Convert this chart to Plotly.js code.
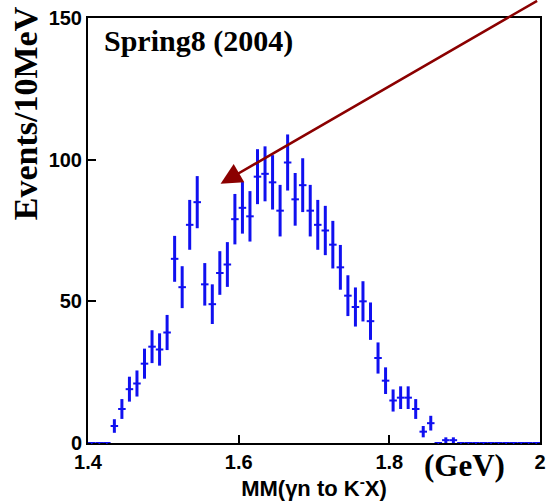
<!DOCTYPE html>
<html>
<head>
<meta charset="utf-8">
<script src="https://cdn.plot.ly/plotly-3.0.1.min.js"></script>
<style>
  html, body { margin: 0; padding: 0; background: #ffffff; }
  #chart { width: 548px; height: 502px; }
</style>
</head>
<body>
<div id="chart"></div>
<script>
// Missing-mass bin centres (GeV), 10 MeV bins
const binCenters = [
  1.405, 1.415, 1.425, 1.435, 1.445, 1.455, 1.465, 1.475, 1.485, 1.495,
  1.505, 1.515, 1.525, 1.535, 1.545, 1.555, 1.565, 1.575, 1.585, 1.595,
  1.605, 1.615, 1.625, 1.635, 1.645, 1.655, 1.665, 1.675, 1.685, 1.695,
  1.705, 1.715, 1.725, 1.735, 1.745, 1.755, 1.765, 1.775, 1.785, 1.795,
  1.805, 1.815, 1.825, 1.835, 1.845, 1.855, 1.865, 1.875, 1.885, 1.895,
  1.905, 1.915, 1.925, 1.935, 1.945, 1.955, 1.965, 1.975, 1.985, 1.995
];

// Events per bin
const events = [
  0, 0, 0, 6, 12, 19, 21, 28, 34, 33,
  39, 65, 55, 77, 85, 56, 49, 60, 63, 79,
  83, 80, 94, 95, 92, 82, 99, 86, 91, 82,
  77, 75, 70, 62, 52, 48, 50, 43, 30, 22,
  15, 16, 16, 12, 4, 7, 0, 1, 1, 0,
  0, 0, 0, 0, 0, 0, 0, 0, 0, 0
];

// Statistical uncertainty per bin
const errors = [
  0, 0, 0, 2.4, 3.5, 4.4, 4.6, 5.3, 5.8, 5.7,
  6.2, 8.1, 7.4, 8.8, 9.2, 7.5, 7.0, 7.7, 7.9, 8.9,
  9.1, 8.9, 9.7, 9.7, 9.6, 9.1, 9.9, 9.3, 9.5, 9.1,
  8.8, 8.7, 8.4, 7.9, 7.2, 6.9, 7.1, 6.6, 5.5, 4.7,
  3.9, 4.0, 4.0, 3.5, 2.0, 2.6, 0, 1.0, 1.0, 0,
  0, 0, 0, 0, 0, 0, 0, 0, 0, 0
];

// Half bin width (GeV)
const halfBin = 0.005;

const xTickVals = [1.4, 1.6, 1.8, 2.0];
const xTickText = ['1.4', '1.6', '1.8', '2'];
const yTickVals = [0, 50, 100, 150];
const yTickText = ['0', '50', '100', '150'];

const blue = '#1010f0';

const trace = {
  type: 'scatter',
  mode: 'markers',
  x: binCenters,
  y: events,
  cliponaxis: false,
  marker: { color: blue, size: 2 },
  error_y: { type: 'data', array: errors, visible: true, color: blue, thickness: 3, width: 0 },
  error_x: { type: 'constant', value: halfBin, visible: true, color: blue, thickness: 2, width: 0 },
  hoverinfo: 'x+y'
};

const tickFont = { family: 'Liberation Sans, Arial, sans-serif', size: 20, color: '#000', weight: 'bold' };
const serifBold = { family: 'Liberation Serif, Times New Roman, serif', color: '#000', weight: 'bold' };

const layout = {
  width: 548,
  height: 502,
  margin: { l: 88, r: 8, t: 18, b: 59, pad: 0 },
  paper_bgcolor: '#ffffff',
  plot_bgcolor: '#ffffff',
  showlegend: false,
  xaxis: {
    range: [1.4, 2.0],
    tickvals: xTickVals,
    ticktext: xTickText,
    ticks: 'inside',
    ticklen: 8,
    tickwidth: 2,
    tickcolor: '#000',
    tickfont: tickFont,
    showline: true,
    linecolor: '#000',
    linewidth: 2,
    mirror: true,
    showgrid: false,
    zeroline: false,
    layer: 'below traces',
    title: {
      text: 'MM(γn to K<sup>-</sup>X)',
      font: { family: 'Liberation Sans, Arial, sans-serif', size: 22, color: '#000', weight: 'bold' },
      standoff: 4
    }
  },
  yaxis: {
    range: [0, 150],
    tickvals: yTickVals,
    ticktext: yTickText,
    ticks: 'inside',
    ticklen: 8,
    tickwidth: 2,
    tickcolor: '#000',
    tickfont: tickFont,
    showline: true,
    linecolor: '#000',
    linewidth: 2,
    mirror: true,
    showgrid: false,
    zeroline: false,
    layer: 'below traces'
  },
  annotations: [
    {
      text: 'Spring8 (2004)',
      xref: 'paper', yref: 'paper',
      x: 0.03, y: 0.946,
      xanchor: 'left', yanchor: 'middle',
      showarrow: false,
      font: Object.assign({ size: 30 }, serifBold)
    },
    {
      text: 'Events/10MeV',
      xref: 'paper', yref: 'paper',
      x: -0.1394, y: 0.776,
      xanchor: 'center', yanchor: 'middle',
      textangle: -90,
      showarrow: false,
      font: Object.assign({ size: 34 }, serifBold)
    },
    {
      text: '(GeV)',
      xref: 'paper', yref: 'paper',
      x: 0.832, y: -0.052,
      xanchor: 'center', yanchor: 'middle',
      showarrow: false,
      font: Object.assign({ size: 31 }, serifBold)
    },
    {
      text: '',
      x: 1.576, y: 91.5,
      xref: 'x', yref: 'y',
      ax: 318, ay: -186,
      showarrow: true,
      arrowhead: 2,
      arrowsize: 1.7,
      arrowwidth: 2.5,
      arrowcolor: '#8b0000'
    }
  ]
};

Plotly.newPlot('chart', [trace], layout, { displayModeBar: false, staticPlot: true });
</script>
</body>
</html>
